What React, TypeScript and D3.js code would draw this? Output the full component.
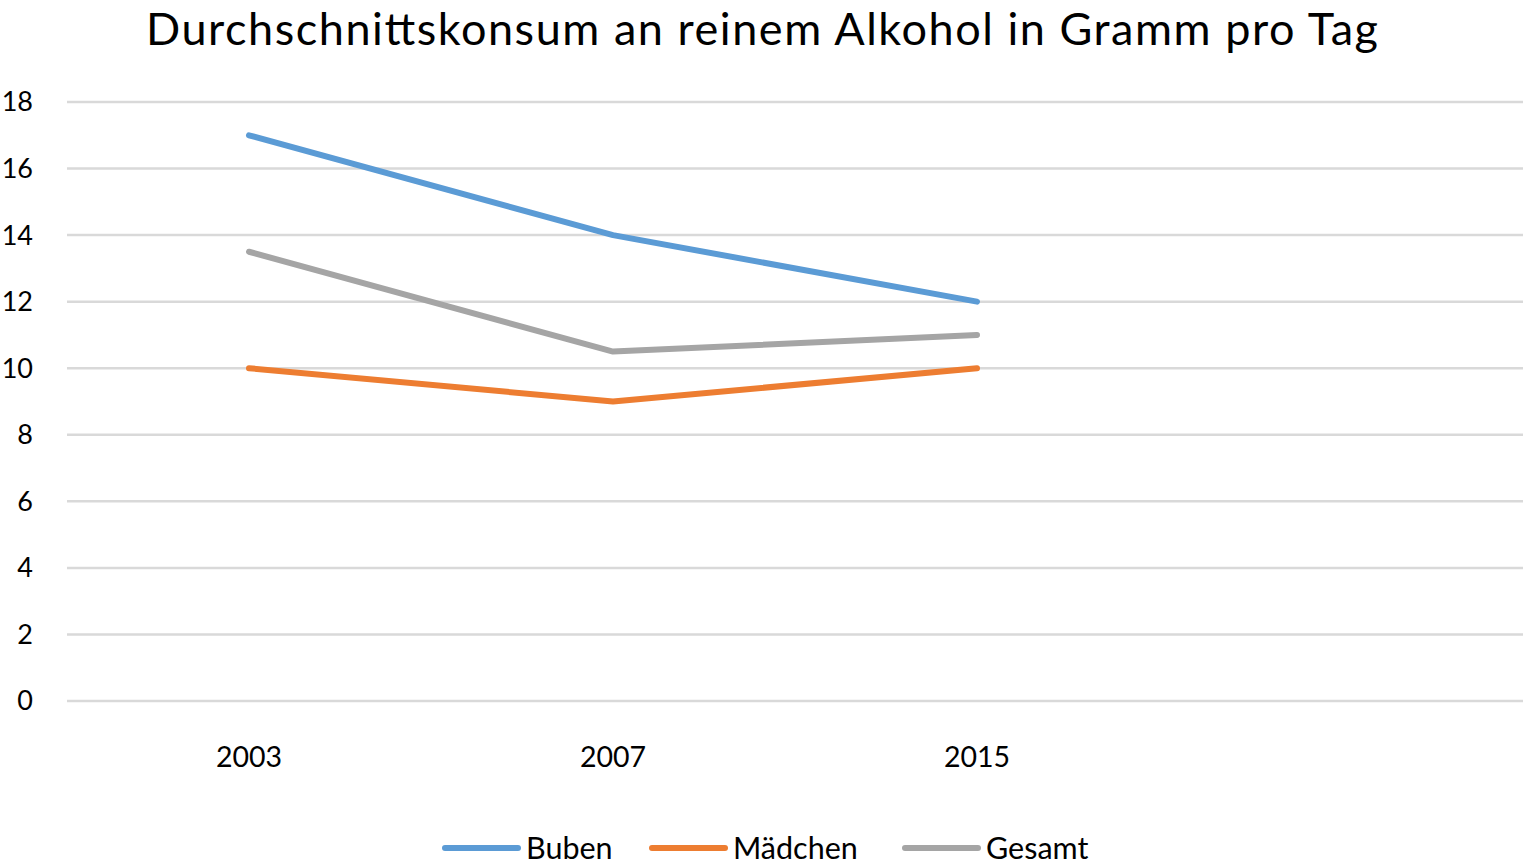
import React from "react";
import * as d3 from "d3";

const categories = ["2003", "2007", "2015", ""];
const seriesNames = ["Buben", "Mädchen", "Gesamt"];
const buben = [17, 14, 12];
const maedchen = [10, 9, 10];
const gesamt = [13.5, 10.5, 11];
const yTicks = [0, 2, 4, 6, 8, 10, 12, 14, 16, 18];
const colors = ["#5b9bd5", "#ed7d31", "#a5a5a5"];
const title = "Durchschnittskonsum an reinem Alkohol in Gramm pro Tag";

const W = 1524;
const H = 868;
const FONT = "Lato, 'Open Sans', sans-serif";

export default function App() {
  const left = 67;
  const right = 1523;
  const x = d3.scaleBand<string>().domain(categories).range([left, right]);
  const y = d3.scaleLinear().domain([0, 18]).range([701, 102]);
  const line = d3
    .line<number>()
    .x((_, i) => (x(categories[i]) as number) + x.bandwidth() / 2)
    .y((d) => y(d));
  const data = [buben, maedchen, gesamt];
  const legendX = [445, 652, 905];

  return (
    <svg
      width={W}
      height={H}
      style={{ position: "absolute", left: 0, top: 0, background: "#fff" }}
      fontFamily={FONT}
    >
      <rect width={W} height={H} fill="#fff" />
      <text
        x={762}
        y={45}
        textAnchor="middle"
        fontSize={45}
        fill="#000"
        textLength={1232}
        lengthAdjust="spacing"
      >
        {title}
      </text>
      {yTicks.map((t) => (
        <g key={t}>
          <line x1={left} x2={right} y1={y(t)} y2={y(t)} stroke="#d9d9d9" strokeWidth={2.5} />
          <text x={33} y={y(t)} dy="0.35em" textAnchor="end" fontSize={27} fill="#000">
            {t}
          </text>
        </g>
      ))}
      {categories.map((c) =>
        c ? (
          <text
            key={c}
            x={(x(c) as number) + x.bandwidth() / 2}
            y={757}
            dy="0.35em"
            textAnchor="middle"
            fontSize={28.5}
            fill="#000"
          >
            {c}
          </text>
        ) : null
      )}
      {data.map((d, i) => (
        <path
          key={i}
          d={line(d) || ""}
          fill="none"
          stroke={colors[i]}
          strokeWidth={6}
          strokeLinecap="round"
          strokeLinejoin="round"
        />
      ))}
      {seriesNames.map((n, i) => (
        <g key={n}>
          <line
            x1={legendX[i]}
            x2={legendX[i] + 73}
            y1={848}
            y2={848}
            stroke={colors[i]}
            strokeWidth={6}
            strokeLinecap="round"
          />
          <text x={legendX[i] + 81} y={848} dy="0.35em" fontSize={30.5} fill="#000">
            {n}
          </text>
        </g>
      ))}
    </svg>
  );
}
